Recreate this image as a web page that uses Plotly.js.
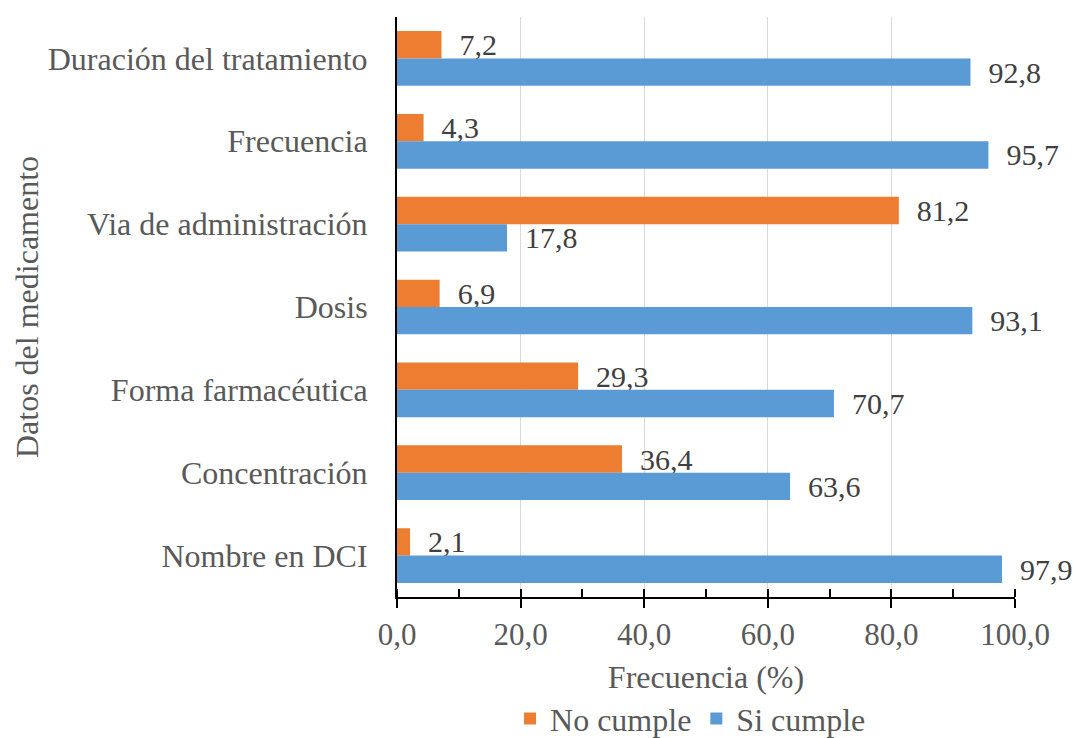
<!DOCTYPE html>
<html>
<head>
<meta charset="utf-8">
<script src="https://cdn.plot.ly/plotly-3.0.1.min.js"></script>
<style>html,body{margin:0;padding:0;background:#fff;}#chart{width:1073px;height:738px;}</style>
</head>
<body>
<div id="chart"></div>
<script>
const categories = ["Duración del tratamiento","Frecuencia","Via de administración","Dosis","Forma farmacéutica","Concentración","Nombre en DCI"];
const noCumple = [7.2, 4.3, 81.2, 6.9, 29.3, 36.4, 2.1];
const siCumple = [92.8, 95.7, 17.8, 93.1, 70.7, 63.6, 97.9];
const xTicks = [0, 20, 40, 60, 80, 100];

const FONT = "Liberation Serif";

const traces = [
  {type:'bar', orientation:'h', name:'No cumple', y:categories, x:noCumple,
   marker:{color:'#ED7D31'}, texttemplate:'  %{x:.1f}', textposition:'outside',
   constraintext:'none', cliponaxis:false,
   textfont:{family:FONT, size:30, color:'#404040'}, hoverinfo:'x+y'},
  {type:'bar', orientation:'h', name:'Si cumple', y:categories, x:siCumple,
   marker:{color:'#5B9BD5'}, texttemplate:'  %{x:.1f}', textposition:'outside',
   constraintext:'none', cliponaxis:false,
   textfont:{family:FONT, size:30, color:'#404040'}, hoverinfo:'x+y'}
];

const layout = {
  width:1073, height:738,
  margin:{l:397, r:58, t:17, b:141, autoexpand:false},
  paper_bgcolor:'#fff', plot_bgcolor:'#fff',
  separators:',.',
  font:{family:FONT, size:32, color:'#595959'},
  barmode:'group', bargap:0.34, bargroupgap:0,
  showlegend:true,
  legend:{orientation:'h', x:0.475, xanchor:'center', y:-0.21, yanchor:'middle',
          font:{family:FONT, size:32, color:'#595959'}, itemwidth:30},
  xaxis:{range:[0,100], tickvals:xTicks, tickformat:'.1f', automargin:false,
         showgrid:true, gridcolor:'#d9d9d9', gridwidth:1,
         zeroline:false, showline:true, linecolor:'#000', linewidth:2,
         ticks:'outside', ticklen:9, tickwidth:2, tickcolor:'#000',
         minor:{dtick:10, ticks:'inside', ticklen:8, tickwidth:2, tickcolor:'#000', showgrid:false},
         tickfont:{family:FONT, size:31, color:'#595959'},
         title:{text:'Frecuencia (%)', font:{family:FONT, size:32, color:'#595959'}, standoff:14},
         fixedrange:true},
  yaxis:{type:'category', autorange:'reversed', showgrid:false, zeroline:false, automargin:false,
         showline:true, linecolor:'#000', linewidth:2, ticks:'',
         ticklabelstandoff:21,
         tickfont:{family:FONT, size:32, color:'#595959'},
         title:{text:'Datos del medicamento', font:{family:FONT, size:32, color:'#595959'}, standoff:0},
         fixedrange:true}
};

Plotly.newPlot('chart', traces, layout, {displayModeBar:false, staticPlot:true});
</script>
</body>
</html>
